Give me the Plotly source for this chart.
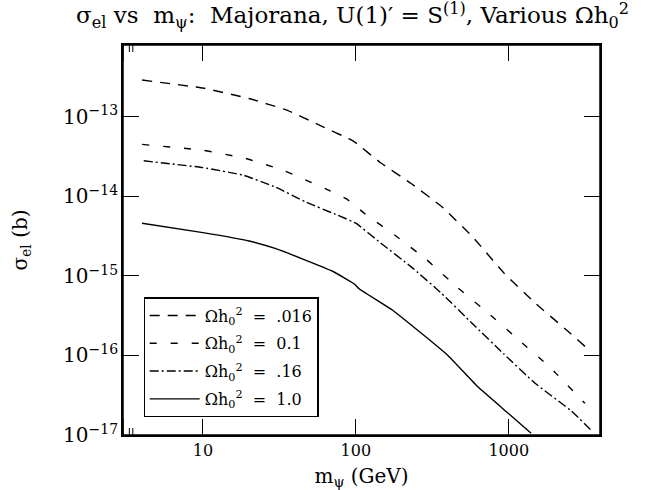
import numpy as np
import plotly.graph_objects as go

# ---- data ----
mass_016 = [4, 10, 20, 36, 60, 92, 100, 145, 230, 365, 580, 925, 1480, 2450, 3150]
sigma_016 = [2.9e-13, 2.3e-13, 1.7e-13, 1.2e-13, 7.6e-14, 5.2e-14, 4.7e-14, 2.65e-14, 1.45e-14,
             7.4e-15, 3.1e-15, 1.1e-15, 4.6e-16, 2.0e-16, 1.3e-16]

mass_01 = [4, 10, 19, 34, 63, 87, 100, 115, 182, 290, 460, 735, 1170, 1860, 3150]
sigma_01 = [4.5e-14, 3.8e-14, 3.0e-14, 2.1e-14, 1.25e-14, 9.3e-15, 7.5e-15, 6.0e-15, 3.2e-15,
            1.6e-15, 7.2e-16, 3.4e-16, 1.55e-16, 7.1e-17, 2.5e-17]

mass_016b = [4.1, 10, 18.5, 30, 47, 76, 100, 145, 230, 365, 580, 925, 1480, 2570, 3460]
sigma_016b = [2.8e-14, 2.3e-14, 1.84e-14, 1.3e-14, 8.5e-15, 5.8e-15, 4.6e-15, 2.6e-15, 1.3e-15,
              6.0e-16, 2.5e-16, 1.05e-16, 4.5e-17, 2.0e-17, 1.15e-17]

mass_10 = [4, 10, 20, 30, 50, 72, 98, 105, 174, 200, 400, 630, 1000, 1400]
sigma_10 = [4.6e-15, 3.5e-15, 2.75e-15, 2.2e-15, 1.5e-15, 1.12e-15, 7.9e-16, 6.9e-16, 3.7e-16,
            3.0e-16, 1.0e-16, 4.0e-17, 1.85e-17, 1.05e-17]

labels = ["Ωh<sub>0</sub><sup>2</sup>  =  .016", "Ωh<sub>0</sub><sup>2</sup>  =  0.1",
          "Ωh<sub>0</sub><sup>2</sup>  =  .16", "Ωh<sub>0</sub><sup>2</sup>  =  1.0"]
dashes = ["10px,8px", "7px,14px", "9px,3px,2px,3px", "solid"]

x_major = [10, 100, 1000]
x_minor = [4, 5, 6, 7, 8, 9, 20, 30, 40, 50, 60, 70, 80, 90,
           200, 300, 400, 500, 600, 700, 800, 900, 2000, 3000]
y_major = [1e-16, 1e-15, 1e-14, 1e-13]
y_minor = [m * 10.0 ** e for e in range(-17, -12) for m in range(2, 10) if m * 10.0 ** e < 8e-13]

FONT = "DejaVu Serif"
XR = [np.log10(3), np.log10(3950)]
YR = [-17, np.log10(8e-13)]

fig = go.Figure()
for i, (xs, ys, name, d) in enumerate(zip([mass_016, mass_01, mass_016b, mass_10],
                                          [sigma_016, sigma_01, sigma_016b, sigma_10], labels, dashes)):
    fig.add_trace(go.Scatter(x=xs, y=ys, mode="lines", name=name, legendgroup=f"g{i}",
                             line=dict(color="black", width=1.4, dash=d, shape="spline", smoothing=0.3)))

axis_common = dict(showline=True, linecolor="black", linewidth=1.5, mirror="allticks",
                   ticks="inside", ticklen=16, tickwidth=1.2, tickcolor="black",
                   showgrid=False, zeroline=False,
                   tickmode="linear", tick0=0, dtick=1,
                   tickfont=dict(family=FONT, size=16, color="black"))

fig.update_xaxes(type="log", range=XR, exponentformat="none",
                 title=dict(text="m<sub>ψ</sub> (GeV)", font=dict(family=FONT, size=20, color="black"), standoff=12),
                 **axis_common)
fig.update_yaxes(type="log", range=YR, exponentformat="power",
                 title=dict(text="σ<sub>el</sub> (b)", font=dict(family=FONT, size=20, color="black"), standoff=30),
                 **axis_common)

# frame around the plotting area
fig.add_shape(type="rect", xref="paper", yref="paper", x0=0, x1=1, y0=0, y1=1,
              line=dict(color="black", width=1.5), layer="above")

# tick marks on all four sides (positions taken from the tick value lists)
def xticks(vals, length, width):
    for v in vals:
        lv = np.log10(v)
        for anchor, sgn in ((0, 1), (1, -1)):
            fig.add_shape(type="line", xref="x", yref="paper", x0=lv, x1=lv,
                          ysizemode="pixel", yanchor=anchor, y0=0, y1=sgn * length,
                          line=dict(color="black", width=width), layer="above")

def yticks(vals, length, width):
    for v in vals:
        lv = np.log10(v)
        for anchor, sgn in ((0, 1), (1, -1)):
            fig.add_shape(type="line", xref="paper", yref="y", y0=lv, y1=lv,
                          xsizemode="pixel", xanchor=anchor, x0=0, x1=sgn * length,
                          line=dict(color="black", width=width), layer="above")

xticks(x_major, 16, 1.2)
xticks(x_minor, 7, 1.0)
yticks(y_major, 16, 1.2)
yticks(y_minor, 7, 1.0)

fig.update_layout(
    width=647, height=490,
    margin=dict(l=123, r=47, t=45, b=55, autoexpand=False),
    paper_bgcolor="white", plot_bgcolor="white",
    title=dict(text="σ<sub>el</sub> vs\u00a0 m<sub>ψ</sub>:\u00a0 Majorana, U(1)′ = S<sup>(1)</sup>, Various Ωh<sub>0</sub><sup>2</sup>",
               font=dict(family=FONT, size=23, color="black"), x=0.545, xanchor="center", y=0.985, yanchor="top"),
    showlegend=True,
    legend=dict(x=0.043, y=0.353, xanchor="left", yanchor="top", bordercolor="black", borderwidth=1.2,
                bgcolor="white", font=dict(family=FONT, size=16, color="black"), itemwidth=50,
                tracegroupgap=4),
)

fig.write_html("out.html")
